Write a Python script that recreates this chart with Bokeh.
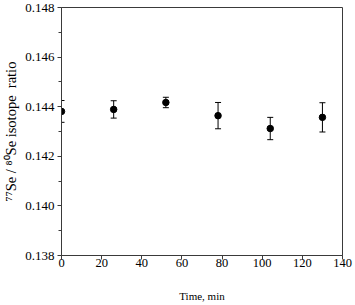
from bokeh.plotting import figure
from bokeh.models import FixedTicker, Range1d, ColumnDataSource, Whisker, TeeHead, PrintfTickFormatter
from bokeh.embed import file_html
from bokeh.resources import INLINE

# data
time_min = [0, 26, 52, 78, 104, 130]
ratio = [0.14381, 0.14389, 0.14417, 0.14364, 0.14312, 0.14357]
err = [0.00044, 0.00035, 0.00021, 0.00053, 0.00045, 0.00059]
x_ticks = [0, 20, 40, 60, 80, 100, 120, 140]
y_ticks = [0.138, 0.140, 0.142, 0.144, 0.146, 0.148]
y_minor = [0.139, 0.141, 0.143, 0.145, 0.147]

FONT = "'Liberation Serif'"
AX = "#3a3a3a"

p = figure(width=355, height=304, output_backend="svg", toolbar_location=None,
           x_range=Range1d(0, 140), y_range=Range1d(0.138, 0.148),
           min_border_left=61, min_border_right=13, min_border_top=7, min_border_bottom=47)
p.grid.visible = False
p.outline_line_color = AX
p.outline_line_width = 1
p.background_fill_color = "white"
p.border_fill_color = "white"

src = ColumnDataSource(dict(x=time_min, y=ratio,
                            lo=[r - e for r, e in zip(ratio, err)],
                            hi=[r + e for r, e in zip(ratio, err)]))
w = Whisker(source=src, base="x", lower="lo", upper="hi", line_color="black", line_width=1,
            upper_head=TeeHead(size=6, line_color="black", line_width=1),
            lower_head=TeeHead(size=6, line_color="black", line_width=1))
p.add_layout(w)
p.scatter("x", "y", source=src, size=6.5, color="black")

xa = p.xaxis[0]
xa.ticker = FixedTicker(ticks=x_ticks)
xa.axis_label = "Time, min"
ya = p.yaxis[0]
ya.ticker = FixedTicker(ticks=y_ticks, minor_ticks=y_minor)
ya.formatter = PrintfTickFormatter(format="%.3f")
ya.axis_label = "\u2077\u2077Se / \u2078\u2070Se isotope\u00a0 ratio"

for ax in (xa, ya):
    ax.axis_line_color = AX
    ax.major_tick_line_color = AX
    ax.minor_tick_line_color = AX
    ax.major_tick_in = 0
    ax.minor_tick_in = 0
    ax.major_tick_out = 4
    ax.minor_tick_out = 3
    ax.major_label_text_font = FONT
    ax.axis_label_text_font = FONT
    ax.major_label_text_color = "black"
    ax.axis_label_text_color = "black"
    ax.axis_label_text_font_style = "normal"
xa.minor_tick_line_color = None
xa.major_label_text_font_size = "12.5px"
ya.major_label_text_font_size = "13px"
xa.axis_label_text_font_size = "11px"
ya.axis_label_text_font_size = "14.5px"
xa.major_label_standoff = -1
ya.major_label_standoff = 3
xa.axis_label_standoff = 20
ya.axis_label_standoff = 3

open("out.html", "w").write(file_html(p, INLINE))
